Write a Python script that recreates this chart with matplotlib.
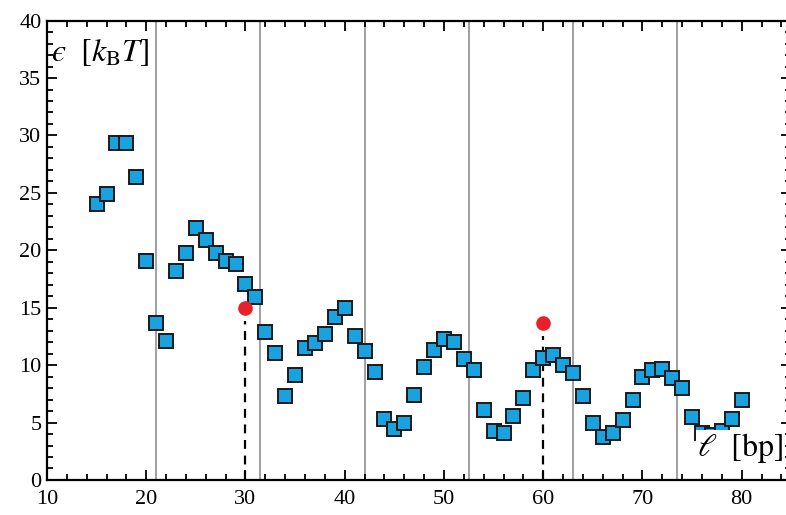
import numpy as np
import matplotlib.pyplot as plt
from matplotlib.ticker import MultipleLocator

plt.rcParams['font.family'] = 'Liberation Serif'
plt.rcParams['mathtext.fontset'] = 'stix'

# data
length = np.arange(15, 81)
energy = [24.0, 24.9, 29.3, 29.3, 26.4, 19.1, 13.7, 12.1, 18.2, 19.8,
          21.9, 20.9, 19.8, 19.1, 18.8, 17.1, 15.9, 12.9, 11.1, 7.3,
          9.1, 11.5, 11.9, 12.7, 14.2, 15.0, 12.5, 11.2, 9.4, 5.3,
          4.4, 5.0, 7.4, 9.8, 11.3, 12.3, 12.0, 10.5, 9.6, 6.1,
          4.3, 4.1, 5.6, 7.1, 9.6, 10.6, 10.9, 10.0, 9.3, 7.3,
          5.0, 3.7, 4.1, 5.2, 7.0, 9.0, 9.6, 9.7, 8.9, 8.0,
          5.5, 4.1, 3.9, 4.3, 5.3, 7.0]
helix_lines = [21, 31.5, 42, 52.5, 63, 73.5]
red_x = [30, 60]
red_y = [15.0, 13.65]

fig = plt.figure(figsize=(7.86, 5.15), dpi=100)
ax = fig.add_axes([0.0598, 0.068, 0.947, 0.892])

for xv in helix_lines:
    ax.axvline(xv, color='#999999', lw=1.3, zorder=1)

for xr, yr in zip(red_x, red_y):
    ax.plot([xr, xr], [0, yr - 1.15], color='black', ls=(0, (4, 3)), lw=1.6, zorder=2)

ax.plot(length, energy, ls='none', marker='s', ms=9.5, mfc='#18a3e0',
        mec='#1a1a1a', mew=1.4, zorder=3)
ax.plot(red_x, red_y, ls='none', marker='o', ms=9.5, color='#e8202a', zorder=4)

ax.set_xlim(10, 85)
ax.set_ylim(0, 40)
ax.xaxis.set_major_locator(MultipleLocator(10))
ax.xaxis.set_minor_locator(MultipleLocator(2))
ax.yaxis.set_major_locator(MultipleLocator(5))
ax.yaxis.set_minor_locator(MultipleLocator(1))
ax.tick_params(which='both', direction='in', top=True, right=True,
               labelsize=16, width=1.3)
ax.tick_params(axis='y', pad=4)
ax.tick_params(axis='x', pad=7)
ax.tick_params(which='major', length=7)
ax.tick_params(which='minor', length=4)
for s in ax.spines.values():
    s.set_linewidth(1.6)

ax.text(10.4, 38.6, '$\u03f5\\ \\ [k_\\mathrm{B}T]$', fontsize=23, va='top', ha='left')
ax.text(84.2, 1.3, r'$\ell\ \ [\mathrm{bp}]$', fontsize=23, va='bottom', ha='right',
        bbox=dict(facecolor='white', edgecolor='none', pad=1), zorder=5)

fig.savefig('out.png', dpi=100)
